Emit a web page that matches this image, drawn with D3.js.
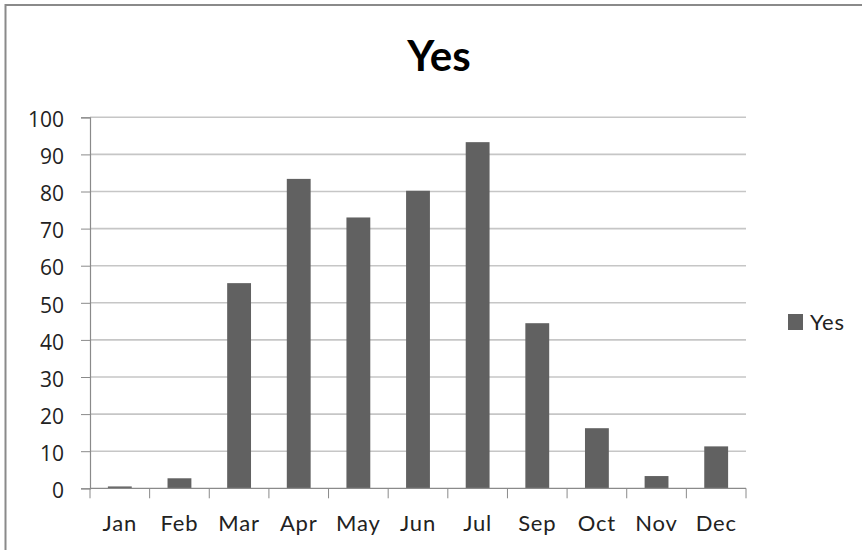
<!DOCTYPE html>
<html><head><meta charset="utf-8">
<script src="https://cdn.jsdelivr.net/npm/d3@7"></script>
<style>html,body{margin:0;padding:0;background:#fff;}svg{display:block;}</style>
</head><body>
<script>
const categories = ["Jan","Feb","Mar","Apr","May","Jun","Jul","Sep","Oct","Nov","Dec"];
const yesValues = [0.5, 2.7, 55.3, 83.4, 73.0, 80.2, 93.3, 44.5, 16.2, 3.3, 11.3];
const yTicks = [0,10,20,30,40,50,60,70,80,90,100];
const seriesName = "Yes";
const chartTitle = "Yes";

const W = 862, H = 550;
const font = "Lato, 'Open Sans', sans-serif";
const numFont = "'Open Sans', Lato, sans-serif";
const svg = d3.select("body").append("svg").attr("width", W).attr("height", H);
svg.append("rect").attr("width", W).attr("height", H).attr("fill", "#fff");
svg.append("rect").attr("x", 5.5).attr("y", 5).attr("width", W + 20).attr("height", H + 20)
  .attr("fill", "none").attr("stroke", "#8a8a8a").attr("stroke-width", 2);

const pLeft = 90, pRight = 746, pTop = 117.3, pBottom = 488.3;
const xb = d3.scaleBand().domain(categories).range([pLeft, pRight]);
const y = d3.scaleLinear().domain([0, 100]).range([pBottom, pTop]);

// gridlines
svg.append("g").selectAll("line").data(yTicks.filter(d => d > 0)).join("line")
  .attr("x1", pLeft).attr("x2", pRight).attr("y1", d => y(d)).attr("y2", d => y(d))
  .attr("stroke", "#c6c6c6").attr("stroke-width", 1.6);

// bars
svg.append("g").selectAll("rect").data(categories).join("rect")
  .attr("x", (d) => xb(d) + xb.bandwidth() * 0.3)
  .attr("width", xb.bandwidth() * 0.4)
  .attr("y", (d, i) => y(yesValues[i]))
  .attr("height", (d, i) => pBottom - y(yesValues[i]))
  .attr("fill", "#616161");

// y axis
const yAxis = d3.axisLeft(y).tickValues(yTicks).tickSize(9).tickPadding(17);
const gy = svg.append("g").attr("transform", `translate(${pLeft},0)`).call(yAxis);
gy.select(".domain").attr("stroke", "#8a8a8a").attr("stroke-width", 1.2);
gy.selectAll(".tick line").attr("stroke", "#8a8a8a");
gy.selectAll(".tick text").attr("font-family", numFont).attr("font-size", 21).attr("fill", "#222")
  .attr("dy", "0.44em");

// x axis
const gx = svg.append("g").attr("transform", `translate(0,${pBottom})`);
gx.append("line").attr("x1", pLeft).attr("x2", pRight).attr("stroke", "#8a8a8a").attr("stroke-width", 1.2);
const bounds = categories.map(c => xb(c)).concat([pRight]);
gx.selectAll("line.tk").data(bounds).join("line").attr("class", "tk")
  .attr("x1", d => d).attr("x2", d => d).attr("y1", 0).attr("y2", 10)
  .attr("stroke", "#8a8a8a");
gx.selectAll("text").data(categories).join("text")
  .attr("x", d => xb(d) + xb.bandwidth() / 2).attr("y", 42.5)
  .attr("text-anchor", "middle").attr("font-family", font).attr("font-size", 22).attr("fill", "#222")
  .attr("letter-spacing", "0.8px")
  .text(d => d);

// title
svg.append("text").attr("x", 439).attr("y", 71).attr("text-anchor", "middle")
  .attr("font-family", font).attr("font-weight", "bold").attr("font-size", 42).attr("fill", "#000")
  .text(chartTitle);

// legend
svg.append("rect").attr("x", 788).attr("y", 314).attr("width", 15).attr("height", 16).attr("fill", "#616161");
svg.append("text").attr("x", 810).attr("y", 329.5).attr("font-family", font).attr("font-size", 22).attr("fill", "#222")
  .attr("letter-spacing", "0.8px")
  .text(seriesName);
</script>
</body></html>
